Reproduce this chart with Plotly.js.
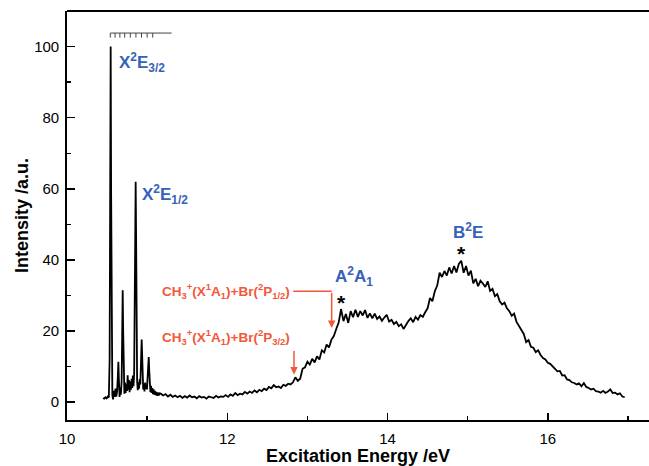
<!DOCTYPE html>
<html><head><meta charset="utf-8">
<script src="https://cdn.plot.ly/plotly-3.0.1.min.js"></script>
<style>html,body{margin:0;padding:0;background:#fff}#chart{width:649px;height:466px}</style>
</head><body><div id="chart"></div>
<script>
// Sharp ionic-state peaks (X2E3/2, X2E1/2 and their vibrational structure)
const peakEnergy = [10.45,10.465,10.48,10.495,10.51,10.522,10.532,10.539,10.545,10.551,
10.558,10.566,10.575,10.585,10.595,10.605,10.615,10.625,10.634,10.641,
10.648,10.656,10.664,10.672,10.682,10.689,10.695,10.701,10.708,10.716,
10.724,10.732,10.741,10.749,10.757,10.765,10.773,10.781,10.79,10.798,
10.806,10.814,10.822,10.83,10.838,10.846,10.852,10.857,10.862,10.868,
10.875,10.883,10.891,10.899,10.907,10.915,10.922,10.928,10.932,10.937,
10.943,10.951,10.959,10.967,10.975,10.983,10.991,10.998,11.006,11.013,
11.02,11.026,11.033,11.041,11.049,11.057,11.065,11.073,11.081,11.089,
11.097,11.106,11.115,11.125,11.135,11.146,11.157];
const peakIntensity = [1.2,1.0,1.4,1.1,1.6,1.3,12,60,100,58,
12,2.0,0.8,3.2,1.5,3.8,1.6,3.0,7,11.4,
6,1.5,4.2,2.1,6,22,31.5,20,5,2.4,
5.5,2.6,5,3.2,7.6,3.5,6.2,2.8,5.8,3.5,
6.6,4.0,7.5,4.5,8,25,50,62,48,22,
6,3.4,5.6,3.8,6.5,5,11,16,17.6,14,
7,3.6,5.2,3.0,5.5,3.8,4.6,3.6,7,11,
12.7,9,4.4,2.8,4.6,2.6,4.0,2.3,3.6,2.1,
3.2,2.0,2.9,1.8,2.7,1.9,2.5];

// Low baseline between the sharp peaks and the dissociative onset
const baseEnergy = [11.17,11.20,11.23,11.26,11.29,11.32,11.35,11.38,11.41,11.44,
11.47,11.50,11.53,11.56,11.59,11.62,11.65,11.68,11.71,11.74,
11.77,11.80,11.83,11.86,11.89,11.92,11.95,11.98,12.01,12.04,
12.07,12.10,12.13,12.16,12.19,12.22,12.25,12.28,12.31,12.34,
12.37,12.40,12.43,12.46,12.49,12.52,12.55,12.58,12.61,12.64,
12.67,12.70,12.73,12.76,12.79,12.82];
const baseIntensity = [2.4,1.9,2.3,1.6,2.1,1.5,1.9,1.4,1.8,1.2,
1.7,1.3,1.9,1.4,1.6,1.1,1.7,1.3,1.5,1.0,
1.6,1.4,1.2,1.8,1.3,1.6,1.5,2.0,1.5,2.2,
1.8,2.6,2.0,2.4,2.2,2.9,2.4,3.0,2.6,3.3,
2.8,3.5,3.1,3.8,3.4,4.3,3.9,4.8,4.2,4.4,
4.0,4.9,4.6,5.2,5.0,5.6];

// Broad A2A1 / B2E bands
const bandEnergy = [12.85,12.88,12.91,12.94,12.97,13.00,13.03,13.06,13.09,13.12,
13.15,13.18,13.21,13.24,13.27,13.30,13.33,13.36,13.39,13.42,
13.45,13.48,13.51,13.54,13.57,13.60,13.63,13.66,13.69,13.72,
13.75,13.78,13.81,13.84,13.87,13.90,13.93,13.96,13.99,14.02,
14.05,14.08,14.11,14.14,14.17,14.20,14.23,14.26,14.29,14.32,
14.35,14.38,14.41,14.44,14.47,14.50,14.53,14.56,14.59,14.62,
14.65,14.68,14.71,14.74,14.77,14.80,14.83,14.86,14.89,14.92,
14.95,14.98,15.01,15.04,15.07,15.10,15.13,15.16,15.19,15.22,
15.25,15.28,15.31,15.34,15.37,15.40,15.43,15.46,15.49,15.52,
15.55,15.58,15.61,15.64,15.67,15.70,15.73,15.76,15.79,15.82,
15.85,15.88,15.91,15.94,15.97,16.00,16.03,16.06,16.09,16.12,
16.15,16.18,16.21,16.24,16.27,16.30,16.33,16.36,16.39,16.42,
16.45,16.48,16.51,16.54,16.57,16.60,16.63,16.66,16.69,16.72,
16.75,16.78,16.81,16.84,16.87,16.90,16.93,16.96];
const bandIntensity = [7.0,6.0,6.6,9.4,9.8,11.4,10.6,12.2,11.2,12.9,
12.0,14.6,14.0,16.2,15.4,17.6,18.6,20.6,22.4,26.2,
22.8,24.8,22.3,25.6,23.9,26.0,24.0,25.6,24.4,25.9,
23.7,25.0,23.6,24.9,23.4,24.1,22.9,23.8,24.6,22.7,
23.2,22.0,22.6,21.4,21.9,20.6,21.9,22.8,23.6,22.5,
24.0,23.2,24.5,24.0,25.3,26.4,29.3,28.4,31.2,32.8,
36.4,35.2,36.9,35.6,37.9,36.2,38.3,36.5,38.9,39.8,
36.4,38.3,35.6,37.0,33.4,34.7,32.6,34.2,33.4,32.4,
34.0,31.3,31.9,29.8,30.4,28.4,27.5,28.0,26.4,25.6,
24.3,24.9,22.6,21.4,20.4,19.2,16.9,17.5,15.6,15.3,
14.1,14.6,13.3,12.4,12.0,11.1,10.8,10.0,9.4,8.7,
8.8,7.5,7.6,6.4,6.2,5.6,5.4,5.0,5.3,4.5,
5.4,4.3,4.0,3.6,3.8,3.1,3.0,2.7,3.2,2.6,
3.0,3.6,2.6,2.7,2.2,2.5,1.6,1.4];

const xTickVals = [10, 12, 14, 16];
const xTickText = ['10', '12', '14', '16'];
const yTickVals = [0, 20, 40, 60, 80, 100];
const yTickText = ['0', '20', '40', '60', '80', '100'];

// vibrational progression comb (energies of comb teeth)
const combEnergy = [10.54, 10.60, 10.66, 10.72, 10.79, 10.86, 10.93, 11.00, 11.07];
const combEnd = 11.306;

// state labels
const stateLabels = ['X<sup>2</sup>E<sub>3/2</sub>', 'X<sup>2</sup>E<sub>1/2</sub>', 'A<sup>2</sup>A<sub>1</sub>', 'B<sup>2</sup>E'];
const stateLabelX = [10.62, 10.91, 13.58, 15.0];
const stateLabelY = [95.5, 58.5, 35.3, 48.2];
const stateAnchor = ['left', 'left', 'center', 'center'];

// dissociation thresholds
const thresholdLabels = ['CH<sub>3</sub><sup>+</sup>(X<sup>1</sup>A<sub>1</sub>)+Br(<sup>2</sup>P<sub>1/2</sub>)',
                         'CH<sub>3</sub><sup>+</sup>(X<sup>1</sup>A<sub>1</sub>)+Br(<sup>2</sup>P<sub>3/2</sub>)'];
const thresholdEnergy = [13.303, 12.833];
const thresholdLabelY = [31.2, 18.2];
const thresholdArrowTop = [31.2, 14.8];
const thresholdArrowTip = [20.9, 7.8];

const starEnergy = [13.43, 14.925];
const starY = [27.9, 41.9];

const energy = peakEnergy.concat(baseEnergy, bandEnergy);
const intensity = peakIntensity.concat(baseIntensity, bandIntensity);

const FONT = 'Arial, "Liberation Sans", sans-serif';
const BLUE = '#3462b8';
const ORANGE = '#f2583a';

const annotations = [];
stateLabels.forEach((t, i) => annotations.push({
  x: stateLabelX[i], y: stateLabelY[i], xref: 'x', yref: 'y', text: '<b>' + t + '</b>',
  showarrow: false, xanchor: stateAnchor[i], yanchor: 'middle',
  font: {family: FONT, size: 17, color: BLUE}
}));
starEnergy.forEach((e, i) => annotations.push({
  x: e, y: starY[i], xref: 'x', yref: 'y', text: '<b>*</b>', showarrow: false,
  xanchor: 'center', yanchor: 'middle', font: {family: FONT, size: 21, color: '#000'}
}));
thresholdLabels.forEach((t, i) => {
  annotations.push({
    x: thresholdEnergy[i] - (i === 0 ? 0.50 : 0.02), y: thresholdLabelY[i], xref: 'x', yref: 'y',
    text: '<b>' + t + '</b>', showarrow: false, xanchor: 'right', yanchor: 'middle',
    font: {family: FONT, size: 13.5, color: ORANGE}
  });
  annotations.push({
    x: thresholdEnergy[i], y: thresholdArrowTip[i], ax: thresholdEnergy[i], ay: thresholdArrowTop[i],
    xref: 'x', yref: 'y', axref: 'x', ayref: 'y', text: '', showarrow: true,
    arrowhead: 2, arrowsize: 1, arrowwidth: 1.5, arrowcolor: ORANGE, standoff: 0, startstandoff: 0
  });
});

const shapes = [
  {type: 'line', xref: 'paper', yref: 'paper', x0: 0, x1: 1, y0: 1, y1: 1, line: {color: '#000', width: 1.8}},
  {type: 'line', xref: 'x', yref: 'y', x0: thresholdEnergy[0] - 0.48, x1: thresholdEnergy[0],
   y0: thresholdArrowTop[0], y1: thresholdArrowTop[0], line: {color: ORANGE, width: 1.5}},
  {type: 'line', xref: 'x', yref: 'y', x0: combEnergy[0], x1: combEnd, y0: 103.8, y1: 103.8, line: {color: '#444', width: 1}}
];
combEnergy.forEach(e => shapes.push({type: 'line', xref: 'x', yref: 'y', x0: e, x1: e, y0: 103.8, y1: 102.5,
  line: {color: '#444', width: 1}}));

const trace = {x: energy, y: intensity, type: 'scatter', mode: 'lines',
  line: {color: '#000', width: 1.8}, hoverinfo: 'skip'};

const layout = {
  width: 649, height: 466,
  margin: {l: 67, r: 0, t: 11, b: 46},
  paper_bgcolor: '#fff', plot_bgcolor: '#fff',
  font: {family: FONT, color: '#000'},
  showlegend: false,
  xaxis: {
    range: [10, 17.263], tickvals: xTickVals, ticktext: xTickText,
    ticks: 'inside', ticklen: 7, tickwidth: 1.5, tickcolor: '#000',
    minor: {dtick: 1, tick0: 10, ticks: 'inside', ticklen: 4, tickwidth: 1.5, tickcolor: '#000', showgrid: false},
    showline: true, linecolor: '#000', linewidth: 1.8, showgrid: false, zeroline: false,
    tickfont: {family: FONT, size: 15, color: '#000'}, ticklabelstandoff: 4,
    title: {text: '<b>Excitation Energy /eV</b>', font: {family: FONT, size: 18, color: '#000'}, standoff: 4},
    automargin: false
  },
  yaxis: {
    range: [-5, 110], tickvals: yTickVals, ticktext: yTickText,
    ticks: 'inside', ticklen: 8, tickwidth: 1.5, tickcolor: '#000',
    minor: {dtick: 10, tick0: 0, ticks: 'inside', ticklen: 4, tickwidth: 1.5, tickcolor: '#000', showgrid: false},
    showline: true, linecolor: '#000', linewidth: 1.8, showgrid: false, zeroline: false,
    tickfont: {family: FONT, size: 15, color: '#000'}, ticklabelstandoff: 3,
    title: {text: '<b>Intensity /a.u.</b>', font: {family: FONT, size: 18, color: '#000'}, standoff: 1},
    automargin: false
  },
  annotations: annotations,
  shapes: shapes
};

Plotly.newPlot('chart', [trace], layout, {displayModeBar: false, staticPlot: true});
</script>
</body></html>
